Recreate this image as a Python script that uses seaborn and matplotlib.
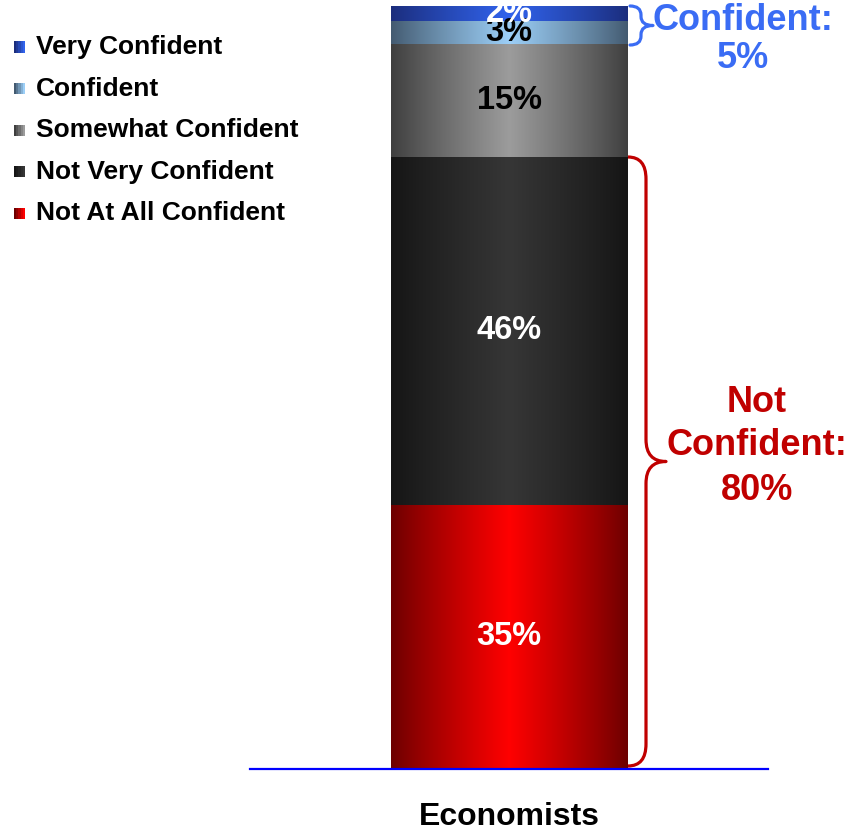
import numpy as np
import pandas as pd
import matplotlib
matplotlib.use("Agg")
import matplotlib.pyplot as plt
import seaborn as sns
from matplotlib.colors import LinearSegmentedColormap
from matplotlib.patches import Rectangle, PathPatch
from matplotlib.path import Path

# ---- data (stacked bottom to top) ----
groups = ["Economists"]
levels = ["Not At All Confident", "Not Very Confident", "Somewhat Confident",
          "Confident", "Very Confident"]
shares = [35, 46, 15, 3, 2]
label_colors = ["white", "white", "black", "black", "white"]
edge_colors = ["#6c0000", "#151515", "#3e3e3e", "#435a70", "#1b2d7c"]
center_colors = ["#ff0000", "#363636", "#9c9c9c", "#9ccff7", "#3163ec"]
confident_total = 5
not_confident_total = 80

sns.set_theme(style="white")
plt.rcParams["font.family"] = ["Liberation Sans", "DejaVu Sans"]

W, H = 855, 832
fig = plt.figure(figsize=(W / 100, H / 100), dpi=100)
ax = fig.add_axes([250 / W, 1 - 769 / H, 518 / W, 763 / H])

bar_width = 0.456
bottoms = np.concatenate([[0], np.cumsum(shares)[:-1]])
for level, share, base, ec in zip(levels, shares, bottoms, edge_colors):
    df = pd.DataFrame({"group": groups, "share": [share]})
    sns.barplot(data=df, x="group", y="share", bottom=base, width=bar_width,
                color=ec, saturation=1, linewidth=0, ax=ax, errorbar=None)

# horizontal shading on every segment, clipped to its bar
u = np.linspace(0, 1, 400)
shade = (1 - np.abs(2 * u - 1)) ** 0.9
for patch, ec, cc in zip(ax.patches, edge_colors, center_colors):
    x0, y0 = patch.get_x(), patch.get_y()
    w, h = patch.get_width(), patch.get_height()
    cmap = LinearSegmentedColormap.from_list("seg", [ec, cc])
    im = ax.imshow(shade[None, :], extent=(x0, x0 + w, y0, y0 + h),
                   aspect="auto", cmap=cmap, vmin=0, vmax=1,
                   interpolation="bilinear", zorder=patch.get_zorder() + 0.1)
    im.set_clip_path(patch)

# segment value labels
for share, base, tc in zip(shares, bottoms, label_colors):
    ax.text(0, base + share / 2, f"{share}%", ha="center", va="center",
            fontsize=23.5, fontweight="bold", color=tc, zorder=5, clip_on=False)

ax.set_xlim(-0.5, 0.5)
ax.set_ylim(0, 101)
ax.set_xlabel("")
ax.set_ylabel("")
ax.set_yticks([])
for side in ["top", "left", "right"]:
    ax.spines[side].set_visible(False)
ax.spines["bottom"].set_color("#0000ff")
ax.spines["bottom"].set_linewidth(1.6)
ax.tick_params(axis="x", length=0, pad=24)
for lbl in ax.get_xticklabels():
    lbl.set_fontsize(23)
    lbl.set_fontweight("bold")
    lbl.set_color("black")


# helpers: pixel positions -> data coordinates
def px_x(p):
    return (p - 509) / 518


def px_y(p):
    return (769 - p) * 101 / 763


def brace(xe, xv, xt, ytop, ybot, r, color, lw):
    ym = (ytop + ybot) / 2
    pts = [(xe, ytop), (xv, ytop), (xv, ytop + r), (xv, ym - r),
           (xv, ym), (xt, ym), (xv, ym), (xv, ym + r), (xv, ybot - r),
           (xv, ybot), (xe, ybot)]
    codes = [Path.MOVETO, Path.CURVE3, Path.CURVE3, Path.LINETO,
             Path.CURVE3, Path.CURVE3, Path.CURVE3, Path.CURVE3, Path.LINETO,
             Path.CURVE3, Path.CURVE3]
    verts = [(px_x(a), px_y(b)) for a, b in pts]
    ax.add_patch(PathPatch(Path(verts, codes), facecolor="none",
                           edgecolor=color, lw=lw, clip_on=False,
                           capstyle="round", joinstyle="round"))


red = "#c00000"
blue = "#3a6cf4"
brace(628, 646, 666, 157, 766, 22, red, 2.3)
brace(630, 641, 653, 6, 45, 9, blue, 2.3)

ax.text(px_x(757), px_y(402), "Not", ha="center", va="center",
        fontsize=26, fontweight="bold", color=red)
ax.text(px_x(757), px_y(446), "Confident:", ha="center", va="center",
        fontsize=26, fontweight="bold", color=red)
ax.text(px_x(757), px_y(490), f"{not_confident_total}%", ha="center",
        va="center", fontsize=26, fontweight="bold", color=red)
ax.text(px_x(743), px_y(20), "Confident:", ha="center", va="center",
        fontsize=26, fontweight="bold", color=blue)
ax.text(px_x(743), px_y(59), f"{confident_total}%", ha="center",
        va="center", fontsize=26, fontweight="bold", color=blue)

# legend, top-most series first
for i, (level, ec, cc) in enumerate(zip(levels[::-1], edge_colors[::-1],
                                        center_colors[::-1])):
    yc = 47 + i * 41.5
    n = 5
    for k in range(n):
        col = LinearSegmentedColormap.from_list("l", [ec, cc])(k / (n - 1))
        fig.patches.append(Rectangle(((14 + k * 2.2) / W, 1 - (yc + 5.5) / H),
                                     2.3 / W, 11 / H, transform=fig.transFigure,
                                     facecolor=col, edgecolor="none"))
    fig.text(36 / W, 1 - yc / H, level, ha="left", va="center",
             fontsize=19, fontweight="bold", color="black")

fig.savefig("out.png", dpi=100)
